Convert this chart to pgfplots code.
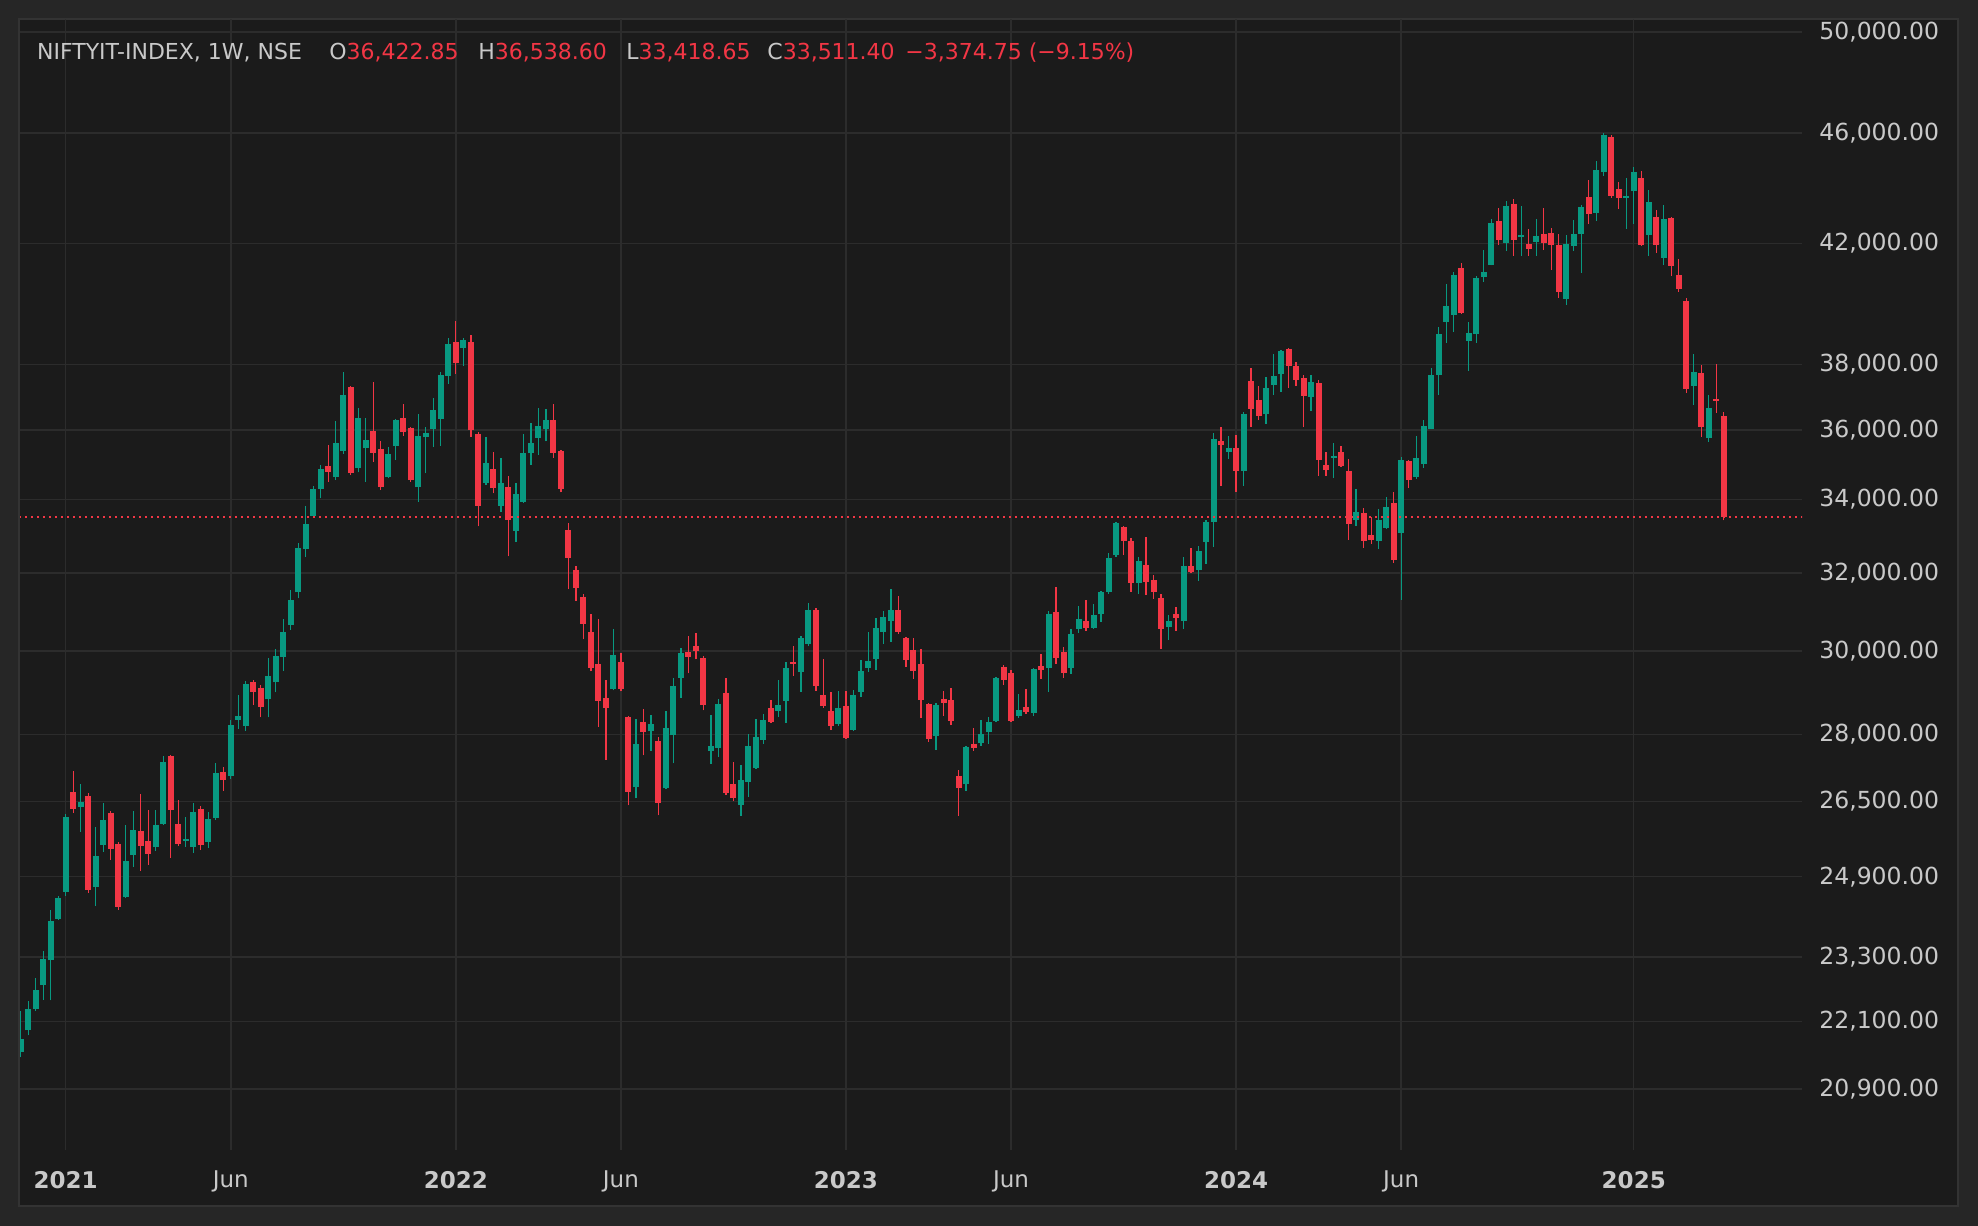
\documentclass[border=0pt]{standalone}
\usepackage{pgfplots}
\pgfplotsset{compat=1.18}
\usepackage{pgfplotstable}
\usepackage{fontspec}
\setmainfont{DejaVu Sans}
\definecolor{upcol}{HTML}{089981}
\definecolor{dncol}{HTML}{F23645}
\definecolor{bgcol}{HTML}{1B1B1B}
\definecolor{outcol}{HTML}{262626}
\definecolor{gridcol}{HTML}{2C2C2C}
\definecolor{bordcol}{HTML}{333333}
\definecolor{txtcol}{HTML}{C9C9C9}

% weekly candles: index, open, high, low, close (rising weeks)
\pgfplotstableread{
i o h l c
0 21555 22292 21449 21783
1 21933 22476 21842 22328
2 22334 22906 22297 22681
3 22774 23423 22494 23268
4 23237 24229 22482 24010
5 24049 24510 24030 24470
6 24591 26227 24510 26162
8 26378 26884 25840 26487
10 24693 25947 24309 25333
11 25564 26465 25417 26097
14 24490 25989 24470 25229
15 25354 26291 25104 25883
18 25522 26313 25438 25989
19 26011 27513 25989 27376
22 25656 26162 25522 25691
23 25522 26465 25396 26270
25 25627 26270 25501 26118
26 26140 27354 26097 27129
28 27062 28342 26995 28226
29 28342 28933 28133 28436
30 28201 29268 28093 29199
33 28823 29834 28401 29389
34 29233 30055 28993 29878
35 29860 30808 29510 30474
36 30663 31553 30537 31293
37 31488 32804 31330 32669
38 32650 33816 32429 33321
39 33547 34378 33520 34297
40 34307 34981 34025 34868
42 34643 36273 34561 35626
43 35386 37767 35313 37062
45 34878 36670 34765 36369
46 35458 36369 34500 35710
49 34622 35501 34600 35302
50 35542 36337 35136 36305
53 34338 36487 33935 35830
54 35784 36092 34735 35922
55 36049 36974 35511 36606
56 36347 37767 35542 37679
57 37656 38851 37413 38657
59 38543 38851 37968 38783
62 34469 35797 34411 35042
64 33829 35182 33656 34469
66 33134 34469 32825 34157
67 33935 35889 33900 35332
68 35312 36217 34993 35625
69 35777 36662 35282 36124
70 36042 36631 35665 36309
79 29066 30558 29040 29903
82 26804 28364 26562 27790
84 28076 28461 27632 28252
86 26782 28559 26760 28155
87 27980 29340 27343 29148
88 29348 30083 28869 29954
92 27626 28459 27331 27740
93 27695 28837 27490 28719
96 26422 27309 26183 26973
97 26928 28016 26597 27740
98 27242 28366 27220 27947
99 27878 28483 27786 28342
101 28553 29293 28412 28695
102 28790 29732 28272 29585
104 29487 30377 29005 30326
105 30177 31215 30127 31036
109 28249 29029 28202 28624
111 28109 29053 28090 28933
112 29005 29781 28885 29512
113 29585 30477 29487 29757
114 29806 30831 29536 30578
115 30477 31010 30177 30857
116 30755 31578 30227 31036
122 27978 28743 27649 28695
126 26885 27741 26730 27718
128 27810 28342 27741 28017
129 28063 28412 27787 28295
130 28319 29367 28295 29342
133 28436 28958 28389 28578
135 28507 29586 28436 29561
137 29586 31011 29005 30934
140 29586 30554 29440 30427
141 30554 31139 30452 30806
143 30578 31190 30560 30909
144 30934 31527 30730 31501
145 31501 32531 31449 32397
146 32477 33374 32424 33346
149 31735 32424 31449 32317
153 30604 30909 30277 30756
155 30756 32423 30554 32183
157 32077 32719 31787 32585
158 32827 33429 32237 33374
159 33374 35918 32692 35740
161 35358 35828 35155 35476
163 34808 36545 34380 36485
166 36485 37616 36185 37277
167 37369 38337 37062 37647
168 37709 38464 37153 38432
172 37000 37679 36575 37461
175 35184 35622 34607 35242
178 33429 34295 33264 33650
181 32855 33734 32638 33429
182 33209 34069 33182 33790
184 33072 35213 31293 35126
186 34646 35830 34590 35183
187 35019 36306 34904 36127
188 36047 37896 36020 37678
189 37689 39201 37072 38975
190 39374 40617 38697 39886
191 39601 41021 39050 40920
193 38761 39363 37813 39007
194 38986 40886 38697 40819
195 40863 41773 40695 41021
196 41270 42855 41240 42714
198 42027 43497 41750 43317
200 42224 43317 41578 42293
202 42061 42855 41578 42258
206 40128 42293 39930 41980
207 41923 42820 41750 42328
208 42340 43354 40998 43282
210 43080 44957 42797 44624
211 44562 46007 44416 45932
214 43617 44330 42515 43677
215 43869 44734 42690 44550
217 42304 43893 41578 43461
219 41509 43354 41270 42855
223 37349 38337 36767 37772
225 35781 37062 35663 36666
}\upcandles

% falling weeks
\pgfplotstableread{
i o h l c
7 26707 27174 26248 26335
9 26619 26685 24571 24632
12 26248 26291 25249 25480
13 25585 25627 24229 24289
16 25861 26663 25022 25543
17 25649 26313 25145 25375
20 27513 27530 25291 26313
21 26011 26531 25543 25585
24 26335 26400 25459 25564
27 27152 27264 26729 26973
31 29242 29294 28704 28993
32 29105 29173 28401 28636
41 34950 35563 34500 34765
44 37302 37330 34704 34735
47 35975 37457 35074 35344
48 35448 35679 34277 34358
51 36369 36790 35837 35954
52 36070 36090 34500 34561
58 38714 39393 37723 38069
60 38718 38939 35807 35991
61 35889 35950 33248 33800
63 34863 35362 34167 34332
65 34352 34666 32436 33437
71 36309 36788 35192 35342
72 35393 35413 34196 34303
73 33153 33343 31562 32381
74 32078 32188 31276 31589
75 31374 31445 30289 30688
76 30479 30934 29498 29590
77 29683 30811 28187 28778
78 28860 29298 27429 28631
80 29734 29954 29017 29083
81 28413 28437 26411 26713
83 28300 28599 27523 28052
85 27853 27948 26194 26471
89 29980 30375 29449 29861
90 30126 30453 29794 30014
91 29828 29878 28567 28681
94 28981 29342 26641 26685
95 26884 27377 26510 26575
100 28624 28814 28272 28295
103 29732 30127 29391 29683
106 31036 31087 29029 29149
107 28933 29806 28624 28671
108 28553 29005 28109 28202
110 28671 29029 27901 27924
117 31036 31396 30427 30477
118 30326 30340 29609 29781
119 30028 30326 29317 29512
120 29683 30053 28389 28814
121 28719 28743 27833 27901
123 28838 29029 28436 28743
124 28815 29101 28226 28319
125 27063 27197 26184 26796
127 27787 28156 27627 27695
131 29610 29659 29173 29294
132 29464 29536 28300 28319
134 28649 29077 28484 28531
136 29634 29929 29318 29536
138 30985 31631 29683 29831
139 29979 30103 29342 29464
142 30756 31293 30503 30578
147 33237 33260 32477 32855
148 32855 32936 31501 31735
150 32210 32963 31423 31762
151 31814 31946 31319 31501
152 31345 31449 30053 30554
154 30934 31113 30503 30832
156 32183 32665 31998 32024
160 35681 36096 34380 35564
162 35476 35858 34210 34808
164 37492 37897 36096 36636
165 36909 37338 36305 36425
169 38496 38528 37277 37959
170 37959 38085 37338 37523
171 37585 37679 36096 37031
173 37430 37523 34665 35126
174 34981 35358 34665 34837
176 35358 35534 34923 34952
177 34808 35155 32882 33319
179 33622 33762 32665 32855
180 33017 33512 32774 32882
183 33901 34210 32263 32343
185 35096 35125 34332 34560
192 41156 41327 39634 39667
197 42785 43246 41957 42131
199 43389 43569 41578 42131
201 41980 42503 41578 41819
203 42328 43246 41784 42027
204 42363 42538 41100 41957
205 41946 42328 40161 40361
209 43641 44257 42690 43044
212 45856 45932 43617 43688
213 43929 44184 43222 43617
216 44330 44587 41923 41957
218 42926 43174 41681 41957
220 42891 42910 40898 41236
221 40920 41464 40361 40461
222 40052 40151 37133 37256
224 37741 37991 35810 36076
226 36940 38021 36525 36889
227 36422.85 36538.60 33418.65 33511.40
}\dncandles

% turn a table into two coordinate streams (wicks, bodies) separated by nan
\newcommand\buildcandles[3]{%
  \gdef#2{}\gdef#3{}%
  \pgfplotstablegetrowsof{#1}%
  \pgfmathtruncatemacro\cdlast{\pgfplotsretval-1}%
  \pgfplotsinvokeforeach{0,...,\cdlast}{%
    \pgfplotstablegetelem{##1}{i}\of#1\let\cdI\pgfplotsretval
    \pgfplotstablegetelem{##1}{o}\of#1\let\cdO\pgfplotsretval
    \pgfplotstablegetelem{##1}{h}\of#1\let\cdH\pgfplotsretval
    \pgfplotstablegetelem{##1}{l}\of#1\let\cdL\pgfplotsretval
    \pgfplotstablegetelem{##1}{c}\of#1\let\cdC\pgfplotsretval
    \xdef#2{#2 (\cdI,\cdL) (\cdI,\cdH) (\cdI,nan)}%
    \xdef#3{#3 (\cdI,\cdO) (\cdI,\cdC) (\cdI,nan)}%
  }%
}

\begin{document}
\begin{tikzpicture}
\buildcandles{\upcandles}{\upwicks}{\upbodies}
\buildcandles{\dncandles}{\dnwicks}{\dnbodies}
\useasboundingbox (0,0) rectangle (989bp,613bp);
\fill[outcol] (0,0) rectangle (989bp,613bp);
\fill[bgcol] (9.5bp,10bp) rectangle (979bp,603.5bp);
\draw[bordcol, line width=0.75bp] (9.5bp,10bp) rectangle (979bp,603.5bp);
\begin{axis}[
  at={(10bp,38bp)}, anchor=south west,
  scale only axis, width=891bp, height=565.5bp,
  ymode=log,
  xmin=-0.0933, xmax=237.43, ymin=19876, ymax=50547,
  axis line style={draw=none},
  tick style={draw=none},
  major tick length=0pt,
  xminorticks=false, yminorticks=false,
  grid=major,
  major grid style={draw=gridcol, line width=0.75bp},
  xtick={6,28,58,80,110,132,162,184,215},
  xticklabels={\textbf{2021},Jun,\textbf{2022},Jun,\textbf{2023},Jun,\textbf{2024},Jun,\textbf{2025}},
  ytick={20900,22100,23300,24900,26500,28000,30000,32000,34000,36000,38000,42000,46000,50000},
  yticklabels={{20,900.00},{22,100.00},{23,300.00},{24,900.00},{26,500.00},{28,000.00},{30,000.00},{32,000.00},{34,000.00},{36,000.00},{38,000.00},{42,000.00},{46,000.00},{50,000.00}},
  yticklabel pos=right,
  xticklabel style={font=\fontsize{11.5bp}{13bp}\selectfont, text=txtcol, anchor=north, inner sep=0pt, yshift=-10.35bp},
  yticklabel style={font=\fontsize{11.75bp}{13bp}\selectfont, text=txtcol, anchor=west, inner sep=0pt, xshift=8.5bp},
  clip=true,
]
\edef\tmp{\noexpand\addplot[upcol, line width=0.65bp, unbounded coords=jump, forget plot] coordinates {\upwicks};}\tmp
\edef\tmp{\noexpand\addplot[dncol, line width=0.65bp, unbounded coords=jump, forget plot] coordinates {\dnwicks};}\tmp
\edef\tmp{\noexpand\addplot[upcol, line width=3bp, unbounded coords=jump, forget plot] coordinates {\upbodies};}\tmp
\edef\tmp{\noexpand\addplot[dncol, line width=3bp, unbounded coords=jump, forget plot] coordinates {\dnbodies};}\tmp
\addplot[dncol, line width=0.85bp, dash pattern=on 1bp off 2bp, forget plot] coordinates {(-1,33511.4) (240,33511.4)};
\end{axis}
\begin{scope}[every node/.style={anchor=base west, inner sep=0pt, font=\fontsize{11bp}{13bp}\selectfont}]
\node[text=txtcol] at (18.35bp,583.35bp) {NIFTYIT-INDEX, 1W, NSE};
\node[text=txtcol] at (164.5bp,583.35bp) {O\textcolor{dncol}{36,422.85}};
\node[text=txtcol] at (239bp,583.35bp) {H\textcolor{dncol}{36,538.60}};
\node[text=txtcol] at (313bp,583.35bp) {L\textcolor{dncol}{33,418.65}};
\node[text=txtcol] at (383.5bp,583.35bp) {C\textcolor{dncol}{33,511.40}};
\node[text=dncol] at (452.5bp,583.35bp) {−3,374.75 (−9.15\%)};
\end{scope}
\end{tikzpicture}
\end{document}
